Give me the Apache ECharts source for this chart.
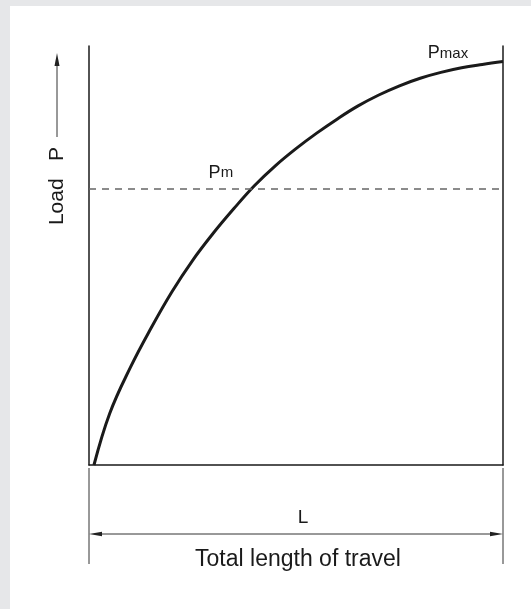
<!DOCTYPE html>
<html>
<head>
<meta charset="utf-8">
<script src="https://cdn.jsdelivr.net/npm/echarts@6/dist/echarts.min.js"></script>
<style>
  html, body { margin: 0; padding: 0; background: #e6e7e9; }
  #main { width: 531px; height: 609px; }
</style>
</head>
<body>
<div id="main"></div>
<script>
// travel as % of L, load as % of axis height
const travel = [1.2, 5, 10, 15, 20, 25, 30, 35, 40, 45, 50, 55, 60, 65, 70, 75, 80, 85, 90, 95, 100];
const load = [0, 12.3, 23.3, 32.7, 41.3, 48.8, 55.3, 61.2, 66.7, 71.4, 75.5, 79.2, 82.6, 85.7, 88.3, 90.5, 92.3, 93.7, 94.8, 95.6, 96.3];
const pmLevel = 65.9;
const pmTravel = 39.1;
const pmaxLoad = 96.3;

var myChart = echarts.init(document.getElementById("main"));

const fontFamily = "Liberation Sans, Arial, sans-serif";
const ink = "#1a1a1a";

const option = {
  backgroundColor: "#e6e7e9",
  animation: false,
  textStyle: { fontFamily: fontFamily },
  grid: { left: 89, right: 28, top: 46, bottom: 144 },
  xAxis: {
    type: "value",
    min: 0,
    max: 100,
    axisLine: { show: true, lineStyle: { color: ink, width: 1.5 } },
    axisTick: { show: false },
    axisLabel: { show: false },
    splitLine: { show: false },
  },
  yAxis: [
    {
      type: "value",
      min: 0,
      max: 100,
      position: "left",
      axisLine: { show: true, onZero: false, lineStyle: { color: ink, width: 1.5 } },
      axisTick: { show: false },
      axisLabel: { show: false },
      splitLine: { show: false },
    },
    {
      type: "value",
      min: 0,
      max: 100,
      position: "right",
      axisLine: { show: true, onZero: false, lineStyle: { color: ink, width: 1.5 } },
      axisTick: { show: false },
      axisLabel: { show: false },
      splitLine: { show: false },
    },
  ],
  graphic: [
    // white panel
    {
      type: "rect",
      z: -10,
      silent: true,
      shape: { x: 10, y: 6, width: 521, height: 603 },
      style: { fill: "#ffffff" },
    },
    // y label + arrow
    {
      type: "text",
      x: 57,
      y: 186,
      rotation: Math.PI / 2,
      style: {
        text: "Load   P",
        font: "21px " + fontFamily,
        fill: ink,
        textAlign: "center",
        textVerticalAlign: "middle",
      },
    },
    {
      type: "line",
      shape: { x1: 57, y1: 137, x2: 57, y2: 64 },
      style: { stroke: "#333", lineWidth: 1 },
    },
    {
      type: "polygon",
      shape: { points: [[57, 53], [54.5, 66], [59.5, 66]] },
      style: { fill: "#222" },
    },
    // dimension line for L
    {
      type: "line",
      shape: { x1: 89, y1: 468, x2: 89, y2: 564 },
      style: { stroke: "#333", lineWidth: 1 },
    },
    {
      type: "line",
      shape: { x1: 503, y1: 468, x2: 503, y2: 564 },
      style: { stroke: "#333", lineWidth: 1 },
    },
    {
      type: "line",
      shape: { x1: 95, y1: 534, x2: 497, y2: 534 },
      style: { stroke: "#333", lineWidth: 1 },
    },
    {
      type: "polygon",
      shape: { points: [[89, 534], [102, 531.8], [102, 536.2]] },
      style: { fill: "#222" },
    },
    {
      type: "polygon",
      shape: { points: [[503, 534], [490, 531.8], [490, 536.2]] },
      style: { fill: "#222" },
    },
    {
      type: "text",
      x: 303,
      y: 518,
      style: {
        text: "L",
        font: "19px " + fontFamily,
        fill: ink,
        textAlign: "center",
        textVerticalAlign: "middle",
      },
    },
    {
      type: "text",
      x: 298,
      y: 560,
      style: {
        text: "Total length of travel",
        font: "23px " + fontFamily,
        fill: ink,
        textAlign: "center",
        textVerticalAlign: "middle",
      },
    },
  ],
  series: [
    {
      name: "Load",
      type: "line",
      data: travel.map((t, i) => [t, load[i]]),
      smooth: 0.4,
      showSymbol: false,
      lineStyle: { color: ink, width: 3 },
      markLine: {
        silent: true,
        symbol: "none",
        label: { show: false },
        lineStyle: { color: "#666", width: 1.5, type: [7, 6] },
        data: [{ yAxis: pmLevel }],
      },
      markPoint: {
        silent: true,
        symbol: "circle",
        symbolSize: 0,
        label: {
          show: true,
          color: ink,
          rich: {
            p: { fontSize: 18, fontFamily: fontFamily, color: ink },
            s: { fontSize: 15, fontFamily: fontFamily, color: ink },
          },
        },
        data: [
          {
            coord: [pmTravel, pmLevel],
            label: { formatter: "{p|P}{s|m}", offset: [-30, -16] },
          },
          {
            coord: [100, pmaxLoad],
            label: { formatter: "{p|P}{s|max}", offset: [-55, -8] },
          },
        ],
      },
    },
  ],
};

myChart.setOption(option);
</script>
</body>
</html>
